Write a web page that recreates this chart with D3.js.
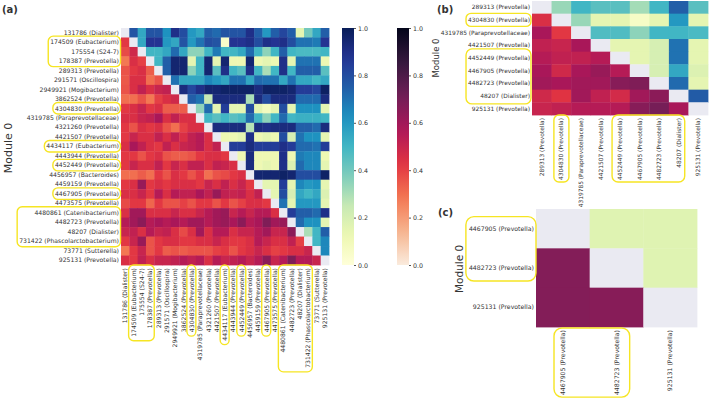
<!DOCTYPE html>
<html><head><meta charset="utf-8">
<script src="https://cdn.jsdelivr.net/npm/d3@7"></script>
<style>
body{margin:0;background:#fff}
text{font-family:"DejaVu Sans",sans-serif;fill:#333}
</style>
</head><body><svg id="chart" width="709" height="400"></svg>
<script>
// ---------- DATA ----------
const labelsA = ["131786 (Dialister)","174509 (Eubacterium)","175554 (S24-7)","178387 (Prevotella)","289313 (Prevotella)","291571 (Oscillospira)","2949921 (Mogibacterium)","3862524 (Prevotella)","4304830 (Prevotella)","4319785 (Paraprevotellaceae)","4321260 (Prevotella)","4421507 (Prevotella)","4434117 (Eubacterium)","4443944 (Prevotella)","4452449 (Prevotella)","4456957 (Bacteroides)","4459159 (Prevotella)","4467905 (Prevotella)","4473575 (Prevotella)","4480861 (Catenibacterium)","4482723 (Prevotella)","48207 (Dialister)","731422 (Phascolarctobacterium)","73771 (Sutterella)","925131 (Prevotella)"];
// lower triangle: row r, columns 0..r-1
const lowerA = [[],
[.42],
[.38,.48],
[.28,.45,.4],
[.36,.42,.45,.34],
[.35,.45,.45,.3,.36],
[.36,.45,.52,.45,.5,.52],
[.3,.3,.36,.28,.4,.45,.48],
[.42,.45,.5,.42,.45,.34,.34,.34],
[.45,.45,.5,.52,.58,.45,.52,.45,.45],
[.42,.36,.45,.42,.45,.36,.3,.4,.45,.45],
[.42,.5,.45,.45,.52,.45,.52,.45,.52,.55,.45],
[.45,.58,.52,.45,.42,.52,.45,.5,.52,.55,.45,.52],
[.42,.42,.36,.42,.45,.36,.34,.34,.36,.42,.45,.45,.42],
[.42,.5,.45,.45,.52,.42,.5,.45,.52,.52,.45,.52,.5,.45],
[.3,.3,.34,.3,.42,.36,.45,.42,.36,.42,.3,.36,.38,.42,.45],
[.42,.45,.62,.42,.45,.42,.45,.45,.45,.42,.5,.45,.52,.45,.5,.42],
[.45,.45,.5,.42,.55,.45,.55,.52,.52,.58,.52,.62,.52,.5,.52,.45,.52],
[.38,.42,.42,.32,.42,.36,.36,.4,.36,.42,.42,.36,.42,.36,.4,.45,.45,.42],
[.45,.6,.6,.45,.45,.45,.5,.45,.45,.5,.55,.6,.62,.5,.55,.5,.55,.55,.45],
[.55,.6,.65,.55,.58,.55,.58,.55,.6,.6,.55,.6,.62,.58,.65,.55,.58,.68,.6,.62],
[.5,.52,.45,.55,.5,.52,.45,.38,.45,.6,.45,.55,.55,.45,.5,.5,.55,.6,.5,.5,.65],
[.42,.5,.62,.36,.42,.45,.45,.42,.42,.45,.45,.5,.45,.42,.42,.45,.55,.5,.45,.45,.52,.4],
[.28,.42,.5,.36,.42,.34,.36,.34,.36,.36,.36,.4,.42,.36,.42,.45,.5,.45,.4,.42,.45,.45,.5],
[.45,.42,.52,.45,.5,.5,.52,.55,.52,.55,.45,.55,.5,.52,.55,.5,.55,.65,.5,.55,.68,.55,.55,.5]];
// upper triangle: row r, columns r+1..24
const upperA = [
[.78,.55,.78,.78,.62,.9,.8,.6,.55,.75,.72,.78,.78,.78,.9,.75,.6,.75,.82,.75,.15,.4,.55,.75],
[.55,.88,.88,.6,.55,.78,.6,.7,.8,.78,.05,.88,.88,.9,.8,.9,.88,.9,.8,.7,.7,.68,.88],
[.5,.5,.55,.72,.55,.35,.35,.5,.68,.5,.5,.55,.72,.5,.35,.5,.75,.5,.48,.48,.48,.5],
[.5,.75,.95,.95,.15,.5,.95,.15,.95,.12,.12,.95,.12,.15,.12,.9,.15,.7,.7,.7,.12],
[.75,.95,.95,.35,.5,.95,.45,.9,.5,.45,.9,.5,.3,.5,.9,.5,.75,.75,.75,.45],
[.7,.55,.55,.55,.65,.6,.55,.7,.7,.55,.72,.7,.7,.55,.7,.55,.55,.5,.55],
[.92,.82,.9,.95,.95,.97,.97,.97,.97,.92,.97,.97,.97,.95,.85,.85,.82,.98],
[.75,.7,.25,.92,.92,.92,.92,.3,.92,.8,.92,.92,.92,.72,.72,.72,.92],
[.35,.72,.15,.85,.15,.15,.8,.15,.08,.15,.8,.15,.62,.62,.62,.15],
[.5,.45,.5,.45,.48,.72,.5,.35,.5,.72,.5,.52,.52,.52,.5],
[.92,.92,.92,.92,.28,.92,.9,.92,.92,.92,.75,.75,.72,.92],
[.12,.12,.15,.9,.12,.15,.12,.8,.2,.7,.62,.62,.15],
[.85,.85,.92,.85,.85,.85,.9,.85,.72,.72,.7,.85],
[.12,.92,.12,.12,.12,.9,.12,.68,.65,.65,.12],
[.92,.12,.15,.12,.9,.18,.72,.65,.65,.15],
[.95,.95,.95,.97,.95,.8,.8,.8,.97],
[.15,.15,.85,.15,.65,.6,.62,.15],
[.15,.8,.2,.55,.5,.55,.18],
[.7,.15,.6,.6,.6,.15],
[.85,.75,.75,.72,.9],
[.72,.62,.62,.15],
[.3,.5,.75],
[.5,.65],
[.65],
[]];

const labelsB = ["289313 (Prevotella)","4304830 (Prevotella)","4319785 (Paraprevotellaceae)","4421507 (Prevotella)","4452449 (Prevotella)","4467905 (Prevotella)","4482723 (Prevotella)","48207 (Dialister)","925131 (Prevotella)"];
const lowerB = [[],[.45],[.58,.42],[.52,.5,.58],[.55,.52,.52,.55],[.58,.48,.58,.62,.55],[.6,.58,.6,.6,.66,.68],[.48,.43,.6,.52,.47,.6,.65],[.5,.52,.55,.55,.55,.66,.7,.58]];
const upperB = [[.33,.5,.45,.45,.31,.5,.75,.45],[.33,.15,.15,.06,.15,.6,.15],[.47,.47,.35,.5,.5,.48],[.15,.15,.2,.7,.15],[.15,.2,.7,.15],[.2,.55,.18],[.72,.15],[.76],[]];

const labelsC = ["4467905 (Prevotella)","4482723 (Prevotella)","925131 (Prevotella)"];
const lowerC = [[],[.67],[.67,.66]];
const upperC = [[.17,.17],[.17],[]];

const colorbarTicks = [0.0,0.2,0.4,0.6,0.8,1.0];
const moduleTitle = "Module 0";
const panelTags = ["(a)","(b)","(c)"];

// highlighted label groups [first,last]
const hlA = [[1,3],[8,8],[12,12],[14,14],[17,17],[19,22]];
const hlB = [[1,1],[4,7]];
const hlC = [[0,1]];

// ---------- COLOUR SCALES ----------
const ylgnbu = d3.scaleLinear().domain(d3.range(9).map(i=>i/8))
  .range(["#ffffd9","#edf8b1","#c7e9b4","#7fcdbb","#41b6c4","#1d91c0","#225ea8","#253494","#081d58"]).clamp(true);
const rocketR = d3.scaleLinear().domain([0,1/7,2/7,3/7,4/7,5/7,6/7,1])
  .range(["#faebdd","#f6b48f","#f37651","#e13342","#ad1759","#701f57","#35193e","#03051a"]).clamp(true);
const diagColor = "#eaeaf2";
const hlColor = "#f6e523";

const svg = d3.select("#chart");
const defs = svg.append("defs");

function heatmap(o){
  const g = svg.append("g");
  const x = d3.scaleBand().domain(o.labels).range([o.x0,o.x1]);
  const y = d3.scaleBand().domain(o.labels).range([o.y0,o.y1]);
  const cells = [];
  o.labels.forEach((rl,r)=>o.labels.forEach((cl,c)=>{
    let fill;
    if(r===c) fill = diagColor;
    else if(c<r) fill = rocketR(o.lower[r][c]);
    else fill = ylgnbu(o.upper[r][c-r-1]);
    cells.push({rl,cl,fill});
  }));
  g.selectAll("rect").data(cells).join("rect")
    .attr("x",d=>x(d.cl)).attr("y",d=>y(d.rl))
    .attr("width",x.bandwidth()+0.4).attr("height",y.bandwidth()+0.4)
    .attr("fill",d=>d.fill);
  const ya = svg.append("g").attr("transform",`translate(${o.x0},0)`)
    .call(d3.axisLeft(y).tickSize(0).tickPadding(2));
  ya.select(".domain").remove();
  ya.selectAll("text").attr("font-size",o.fs).attr("font-family","DejaVu Sans").attr("fill","#333");
  const xa = svg.append("g").attr("transform",`translate(0,${o.y1})`)
    .call(d3.axisBottom(x).tickSize(0));
  xa.select(".domain").remove();
  xa.selectAll("text").attr("font-size",o.fs).attr("font-family","DejaVu Sans").attr("fill","#333")
    .attr("transform","rotate(-90)").attr("text-anchor","end")
    .attr("x",-o.colPad).attr("y",0).attr("dy","0.35em");
  return {x,y,rowTexts:ya.selectAll("text").nodes(),colTexts:xa.selectAll("text").nodes()};
}

function box(nodes,pad,rx){
  const s = svg.node().getBoundingClientRect();
  let x0=1e9,y0=1e9,x1=-1e9,y1=-1e9;
  nodes.forEach(n=>{const r=n.getBoundingClientRect();
    x0=Math.min(x0,r.left);y0=Math.min(y0,r.top);x1=Math.max(x1,r.right);y1=Math.max(y1,r.bottom);});
  svg.append("rect")
    .attr("x",x0-s.left-pad[0]).attr("y",y0-s.top-pad[2])
    .attr("width",x1-x0+pad[0]+pad[1]).attr("height",y1-y0+pad[2]+pad[3])
    .attr("rx",rx).attr("fill","none").attr("stroke",hlColor).attr("stroke-width",1.4);
}

function colorbar(id,cmap,x,y0,y1,w){
  const grad = defs.append("linearGradient").attr("id",id)
    .attr("x1",0).attr("y1",1).attr("x2",0).attr("y2",0);
  d3.range(0,1.0001,0.05).forEach(t=>grad.append("stop").attr("offset",t).attr("stop-color",cmap(t)));
  svg.append("rect").attr("x",x).attr("y",y0).attr("width",w).attr("height",y1-y0).attr("fill",`url(#${id})`);
  const sc = d3.scaleLinear().domain([0,1]).range([y1,y0]);
  const a = svg.append("g").attr("transform",`translate(${x+w},0)`)
    .call(d3.axisRight(sc).tickValues(colorbarTicks).tickSize(2).tickPadding(2).tickFormat(d3.format(".1f")));
  a.select(".domain").remove();
  a.selectAll("line").attr("stroke","#555");
  a.selectAll("text").attr("font-size",6.3).attr("font-family","DejaVu Sans").attr("fill","#333");
}

function rotLabel(txt,x,y,fs){
  svg.append("text").attr("transform",`translate(${x},${y}) rotate(-90)`)
    .attr("text-anchor","middle").attr("font-size",fs).attr("fill","#333").text(txt);
}
function tag(txt,x,y){
  svg.append("text").attr("x",x).attr("y",y).attr("font-size",10).attr("font-weight","bold").attr("fill","#222").text(txt);
}

// ---------- PANEL A ----------
const A = heatmap({labels:labelsA,lower:lowerA,upper:upperA,x0:121,x1:329,y0:28,y1:265,fs:6.1,colPad:3});
colorbar("cb1",ylgnbu,342,28,265,12);
colorbar("cb2",rocketR,397,28,265,12);
rotLabel(moduleTitle,12,148,11);
tag(panelTags[0],2,13);
hlA.forEach(([a,b])=>{
  box(A.rowTexts.slice(a,b+1),[2,1.5,2,2.5],5);
  box(A.colTexts.slice(a,b+1),[1,1,3,4],5);
});

// ---------- PANEL B ----------
const B = heatmap({labels:labelsB,lower:lowerB,upper:upperB,x0:532,x1:708,y0:1,y1:115,fs:5.9,colPad:3});
rotLabel(moduleTitle,439,58,8.5);
tag(panelTags[1],437,13);
box(B.rowTexts.slice(1,2),[2,1,3.5,3.5],5);
box(B.rowTexts.slice(4,8),[2,1,6,5],6);
box(B.colTexts.slice(1,2),[4.5,4.5,3,2],5);
box(B.colTexts.slice(4,8),[5,3,3,2],6);

// ---------- PANEL C ----------
const C = heatmap({labels:labelsC,lower:lowerC,upper:upperC,x0:536,x1:697,y0:209,y1:327,fs:6.2,colPad:3});
rotLabel(moduleTitle,463,269,10.5);
tag(panelTags[2],438,216);
hlC.forEach(([a,b])=>{
  box(C.rowTexts.slice(a,b+1),[3,2,8,10],8);
  box(C.colTexts.slice(a,b+1),[5,10,2,2],8);
});
</script>
</body></html>
